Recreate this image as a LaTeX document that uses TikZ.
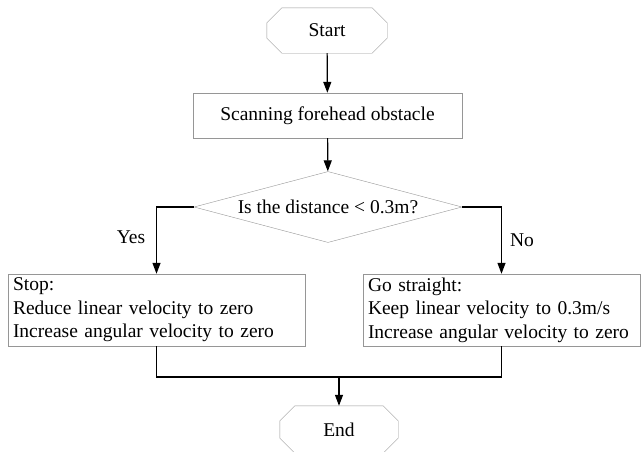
\documentclass[tikz,border=0pt]{standalone}
\usepackage{fontspec}
\setmainfont{Liberation Serif}
\usetikzlibrary{shapes.geometric,arrows.meta}
\definecolor{edgegray}{RGB}{150,150,150}
% cut-corner outline round a terminal node
\newcommand{\cutcorners}[1]{\draw[edgegray] ([xshift=15pt]#1.north west) -- ([xshift=-15pt]#1.north east) -- ([yshift=-15pt]#1.north east) -- ([yshift=15pt]#1.south east) -- ([xshift=-15pt]#1.south east) -- ([xshift=15pt]#1.south west) -- ([yshift=15pt]#1.south west) -- ([yshift=-15pt]#1.north west) -- cycle;}

\begin{document}
\begin{tikzpicture}[x=1pt,y=-1pt,
    every node/.style={font=\fontsize{19.5}{23.5}\selectfont},
    terminal/.style={rectangle,minimum height=45pt,inner sep=0pt},
    process/.style={rectangle,draw=edgegray,minimum height=45pt,inner sep=0pt},
    decision/.style={diamond,draw=edgegray,inner sep=0pt,aspect=3.77,minimum width=268pt,minimum height=71pt},
    action/.style={rectangle,draw=edgegray,align=left,inner xsep=5pt,inner ysep=0pt,minimum height=72pt},
    link/.style={line width=1.2pt},
    flow/.style={link,-{Triangle[length=11pt,width=8pt]}}]
        % obstacle avoidance flow chart
        \useasboundingbox (0,0) rectangle (641,451);
        \node[terminal,minimum width=120pt] (start) at (327,30.5) {Start};
        \node[process,minimum width=269pt] (scan) at (327.5,115.5) {Scanning forehead obstacle};
        \node[decision] (dist) at (328,207) {Is the distance < 0.3m?};
        \node[action,text width=287pt] (stop) at (156.5,310) {Stop:\\Reduce linear velocity to zero\\Increase angular velocity to zero};
        \node[action,text width=267pt] (go) at (501.5,310) {Go straight:\\Keep linear velocity to 0.3m/s\\Increase angular velocity to zero};
        \node[terminal,minimum width=118pt,minimum height=47pt] (end) at (339,429.5) {End};
        \node (yes) at (131,237) {Yes};
        \node (no) at (522,240) {No};
        \coordinate (merge) at (339,377);
        \cutcorners{start}
        \cutcorners{end}

        \draw[flow] (start) -- (scan);
        \draw[flow] (scan) -- (dist);
        \draw[flow] (dist.west) -| (stop.north);
        \draw[flow] (dist.east) -| (go.north);
        \draw[link] (stop.south) |- (merge) -| (go.south);
        \draw[flow] (merge) -- (end);
    \end{tikzpicture}
\end{document}
